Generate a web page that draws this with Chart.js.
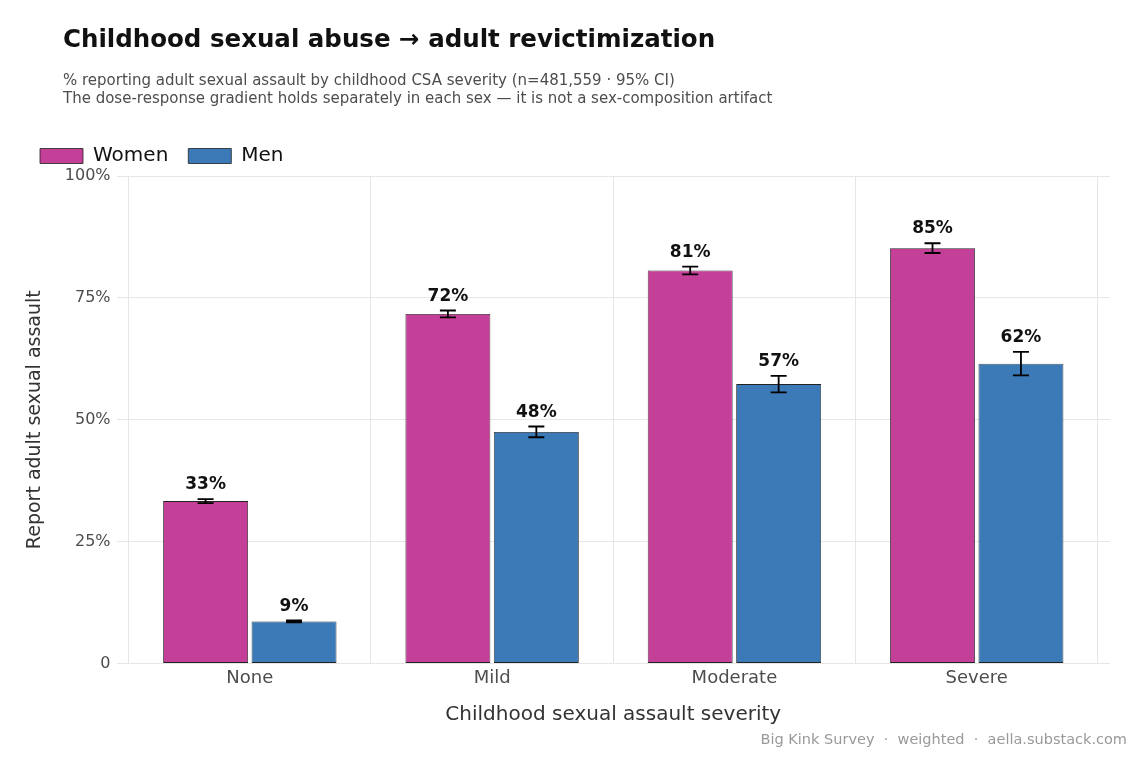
<!DOCTYPE html>
<html><head><meta charset="utf-8">
<script src="https://cdn.jsdelivr.net/npm/chart.js@4"></script>
<style>
body{margin:0;width:1144px;height:759px;background:#fff;font-family:"DejaVu Sans",sans-serif;position:relative;overflow:hidden}
#c{position:absolute;left:0;top:0}
.t{position:absolute;left:63px;top:24px;font-size:24.5px;font-weight:bold;color:#111}
.s{position:absolute;left:63px;top:72px;font-size:15px;color:#4d4d4d;line-height:17.5px}
.cap{position:absolute;right:17px;top:731px;font-size:14.5px;color:#999}
</style></head><body>
<canvas id="c" width="1144" height="759"></canvas>
<div class="t">Childhood sexual abuse → adult revictimization</div>
<div class="s">% reporting adult sexual assault by childhood CSA severity (n=481,559 · 95% CI)<br>The dose-response gradient holds separately in each sex — it is not a sex-composition artifact</div>
<div class="cap">Big Kink Survey &nbsp;·&nbsp; weighted &nbsp;·&nbsp; aella.substack.com</div>
<script>
const categories=["None","Mild","Moderate","Severe"];
const women=[33.3,71.7,80.6,85.2];
const men=[8.6,47.5,57.3,61.5];
const womenErr=[0.4,0.7,0.8,1.0];
const menErr=[0.2,1.1,1.7,2.4];
const yTicks=[0,25,50,75,100];

const errPlugin={id:'err',afterDatasetsDraw(chart){
  const ctx=chart.ctx,y=chart.scales.y;
  const errs=[womenErr,menErr],vals=[women,men];
  chart.data.datasets.forEach((ds,i)=>{
    chart.getDatasetMeta(i).data.forEach((bar,j)=>{
      const v=vals[i][j],e=errs[i][j];
      const x=bar.x,yt=y.getPixelForValue(v+e),yb=y.getPixelForValue(v-e);
      ctx.save();ctx.strokeStyle='#000';ctx.lineWidth=1.8;
      ctx.beginPath();ctx.moveTo(x,yt);ctx.lineTo(x,yb);
      ctx.moveTo(x-8,yt);ctx.lineTo(x+8,yt);ctx.moveTo(x-8,yb);ctx.lineTo(x+8,yb);ctx.stroke();
      ctx.fillStyle='#111';ctx.font='bold 17px "DejaVu Sans"';ctx.textAlign='center';ctx.textBaseline='alphabetic';
      ctx.fillText(Math.round(v)+'%',x,yt-10);
      ctx.restore();
    });
  });
}};
new Chart(document.getElementById('c'),{
  type:'bar',
  data:{datasets:[
    {label:'Women',data:women.map((v,i)=>({x:i,y:v})),backgroundColor:'#c43f97',borderColor:'#222',borderWidth:0.8,borderSkipped:false},
    {label:'Men',data:men.map((v,i)=>({x:i,y:v})),backgroundColor:'#3c7ab7',borderColor:'#222',borderWidth:0.8,borderSkipped:false}
  ]},
  options:{responsive:false,animation:false,
    categoryPercentage:0.73,barPercentage:0.96,
    layout:{padding:{left:20,right:34,top:126,bottom:28}},
    plugins:{tooltip:{enabled:false},
      legend:{align:'start',labels:{boxWidth:43,boxHeight:15,font:{size:20,family:'DejaVu Sans'},color:'#111',padding:20}}},
    scales:{
      x:{type:'linear',min:-0.55,max:3.55,offset:false,
        afterBuildTicks(s){s.ticks=[0,1,2,3].map(v=>({value:v}));},
        ticks:{callback:v=>categories[v],font:{size:18,family:'DejaVu Sans'},color:'#4d4d4d',padding:4},
        grid:{color:'#e6e6e6',drawTicks:false},border:{display:false},
        title:{display:true,text:'Childhood sexual assault severity',font:{size:20,family:'DejaVu Sans'},color:'#333',padding:{top:10}}},
      y:{min:0,max:100,
        afterBuildTicks(s){s.ticks=yTicks.map(v=>({value:v}));},
        ticks:{callback:v=>v===0?'0':v+'%',font:{size:16,family:'DejaVu Sans'},color:'#4d4d4d',padding:6},
        grid:{color:'#e6e6e6',drawTicks:false},border:{display:false},
        title:{display:true,text:'Report adult sexual assault',font:{size:19,family:'DejaVu Sans'},color:'#333',padding:{bottom:12}}}
    }},
  plugins:[errPlugin]
});
</script></body></html>
